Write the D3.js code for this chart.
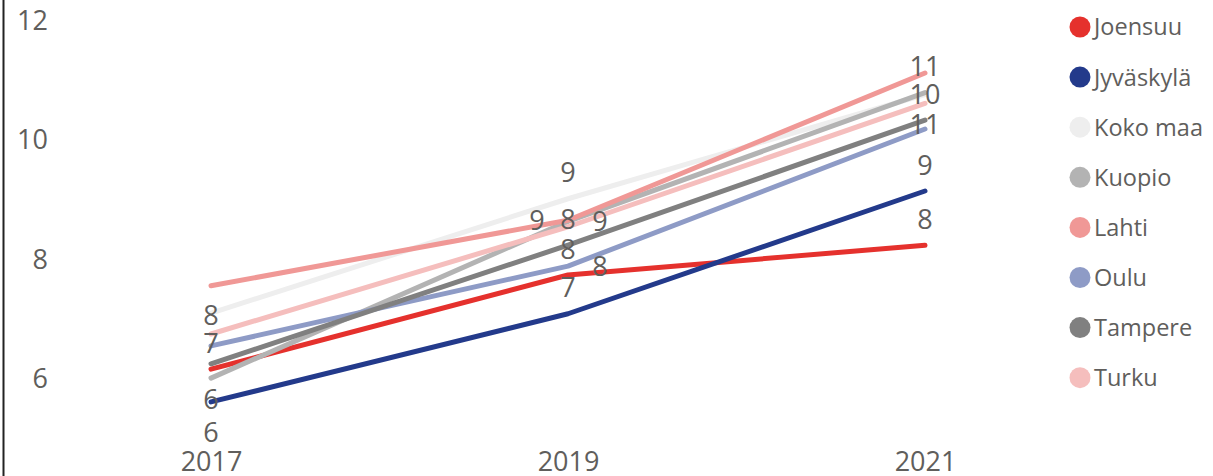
<!DOCTYPE html>
<html lang="fi">
<head>
<meta charset="UTF-8">
<title>Kehitys 2017–2021</title>
<script src="https://d3js.org/d3.v7.min.js"></script>
<style>
    body { margin: 0; background: #fff; font-family: "Open Sans", "Noto Sans", sans-serif; }
    svg text { fill: #605E5C; }
</style>
</head>
<body>
<svg width="1213" height="476"></svg>
<script>
// data
var years = [2017, 2019, 2021];
var seriesNames = ["Joensuu", "Jyväskylä", "Koko maa", "Kuopio", "Lahti", "Oulu", "Tampere", "Turku"];
var seriesColors = ["#E5312D", "#233A8B", "#EEEEEE", "#B3B3B3", "#F09896", "#8E9BC6", "#808080", "#F5BEBD"];

var joensuu   = [6.14, 7.72, 8.22];
var jyvaskyla = [5.59, 7.07, 9.13];
var kokoMaa   = [7.08, 9.00, 10.75];
var kuopio    = [5.99, 8.62, 10.78];
var lahti     = [7.54, 8.64, 11.11];
var oulu      = [6.53, 7.87, 10.17];
var tampere   = [6.23, 8.22, 10.32];
var turku     = [6.73, 8.53, 10.60];
var seriesValues = [joensuu, jyvaskyla, kokoMaa, kuopio, lahti, oulu, tampere, turku];

var yTicks = [6, 8, 10, 12];

// which data labels are shown, and on which side of the point
var labelSides = [
    ["below", "above", "above"],   // Joensuu
    ["below", "above", "above"],   // Jyväskylä
    ["below", "above", "below"],   // Koko maa
    [null,    "right", "above"],   // Kuopio
    ["below", "left",  null],      // Lahti
    [null,    "right", null],      // Oulu
    [null,    "above", "above"],   // Tampere
    [null,    null,    null]       // Turku
];

var svg = d3.select("svg");

var x = d3.scalePoint().domain(years).range([211, 925]);
var y = d3.scaleLinear().domain([6, 12]).range([377.5, 20]);

// left frame line
svg.append("line")
    .attr("x1", 3.5).attr("x2", 3.5)
    .attr("y1", 0).attr("y2", 476)
    .attr("stroke", "#222")
    .attr("stroke-width", 2);

// y axis (labels only)
var yAxis = svg.append("g")
    .attr("transform", "translate(48,0)")
    .call(d3.axisLeft(y).tickValues(yTicks).tickSize(0).tickPadding(0).tickFormat(d3.format("d")));
yAxis.select(".domain").remove();
yAxis.selectAll("text")
    .attr("font-size", 27)
    .attr("font-family", "Open Sans, sans-serif")
    .attr("fill", "#605E5C")
    .attr("dy", "0.36em");

// x axis (labels only)
var xAxis = svg.append("g")
    .attr("transform", "translate(0,461)")
    .call(d3.axisBottom(x).tickSize(0).tickPadding(0).tickFormat(d3.format("d")));
xAxis.select(".domain").remove();
xAxis.selectAll("text")
    .attr("font-size", 27)
    .attr("font-family", "Open Sans, sans-serif")
    .attr("fill", "#605E5C")
    .attr("dy", "0.36em");

var line = d3.line()
    .x(function(d, i) { return x(years[i]); })
    .y(function(d) { return y(d); });

svg.append("g").selectAll("path")
    .data(seriesValues)
    .join("path")
    .attr("d", line)
    .attr("fill", "none")
    .attr("stroke", function(d, i) { return seriesColors[i]; })
    .attr("stroke-width", 5)
    .attr("stroke-linecap", "round")
    .attr("stroke-linejoin", "round");

// data labels
var offsets = {
    above: [0, -26],
    below: [0, 30],
    left:  [-31, 0],
    right: [32, 0]
};
var labels = [];
seriesValues.forEach(function(vals, s) {
    vals.forEach(function(v, i) {
        var side = labelSides[s][i];
        if (side) labels.push({ year: years[i], value: v, side: side });
    });
});

svg.append("g").selectAll("text")
    .data(labels)
    .join("text")
    .attr("x", function(d) { return x(d.year) + offsets[d.side][0]; })
    .attr("y", function(d) { return y(d.value) + offsets[d.side][1]; })
    .attr("dy", "0.36em")
    .attr("text-anchor", "middle")
    .attr("font-size", 27)
    .text(function(d) { return d3.format(".0f")(d.value); });

// legend
var legend = svg.append("g").selectAll("g")
    .data(seriesNames)
    .join("g")
    .attr("transform", function(d, i) { return "translate(1080," + (27 + i * 50.1) + ")"; });

legend.append("circle")
    .attr("r", 10.5)
    .attr("fill", function(d, i) { return seriesColors[i]; });

legend.append("text")
    .attr("x", 14)
    .attr("dy", "0.36em")
    .attr("font-size", 23.5)
    .text(function(d) { return d; });
</script>
</body>
</html>
